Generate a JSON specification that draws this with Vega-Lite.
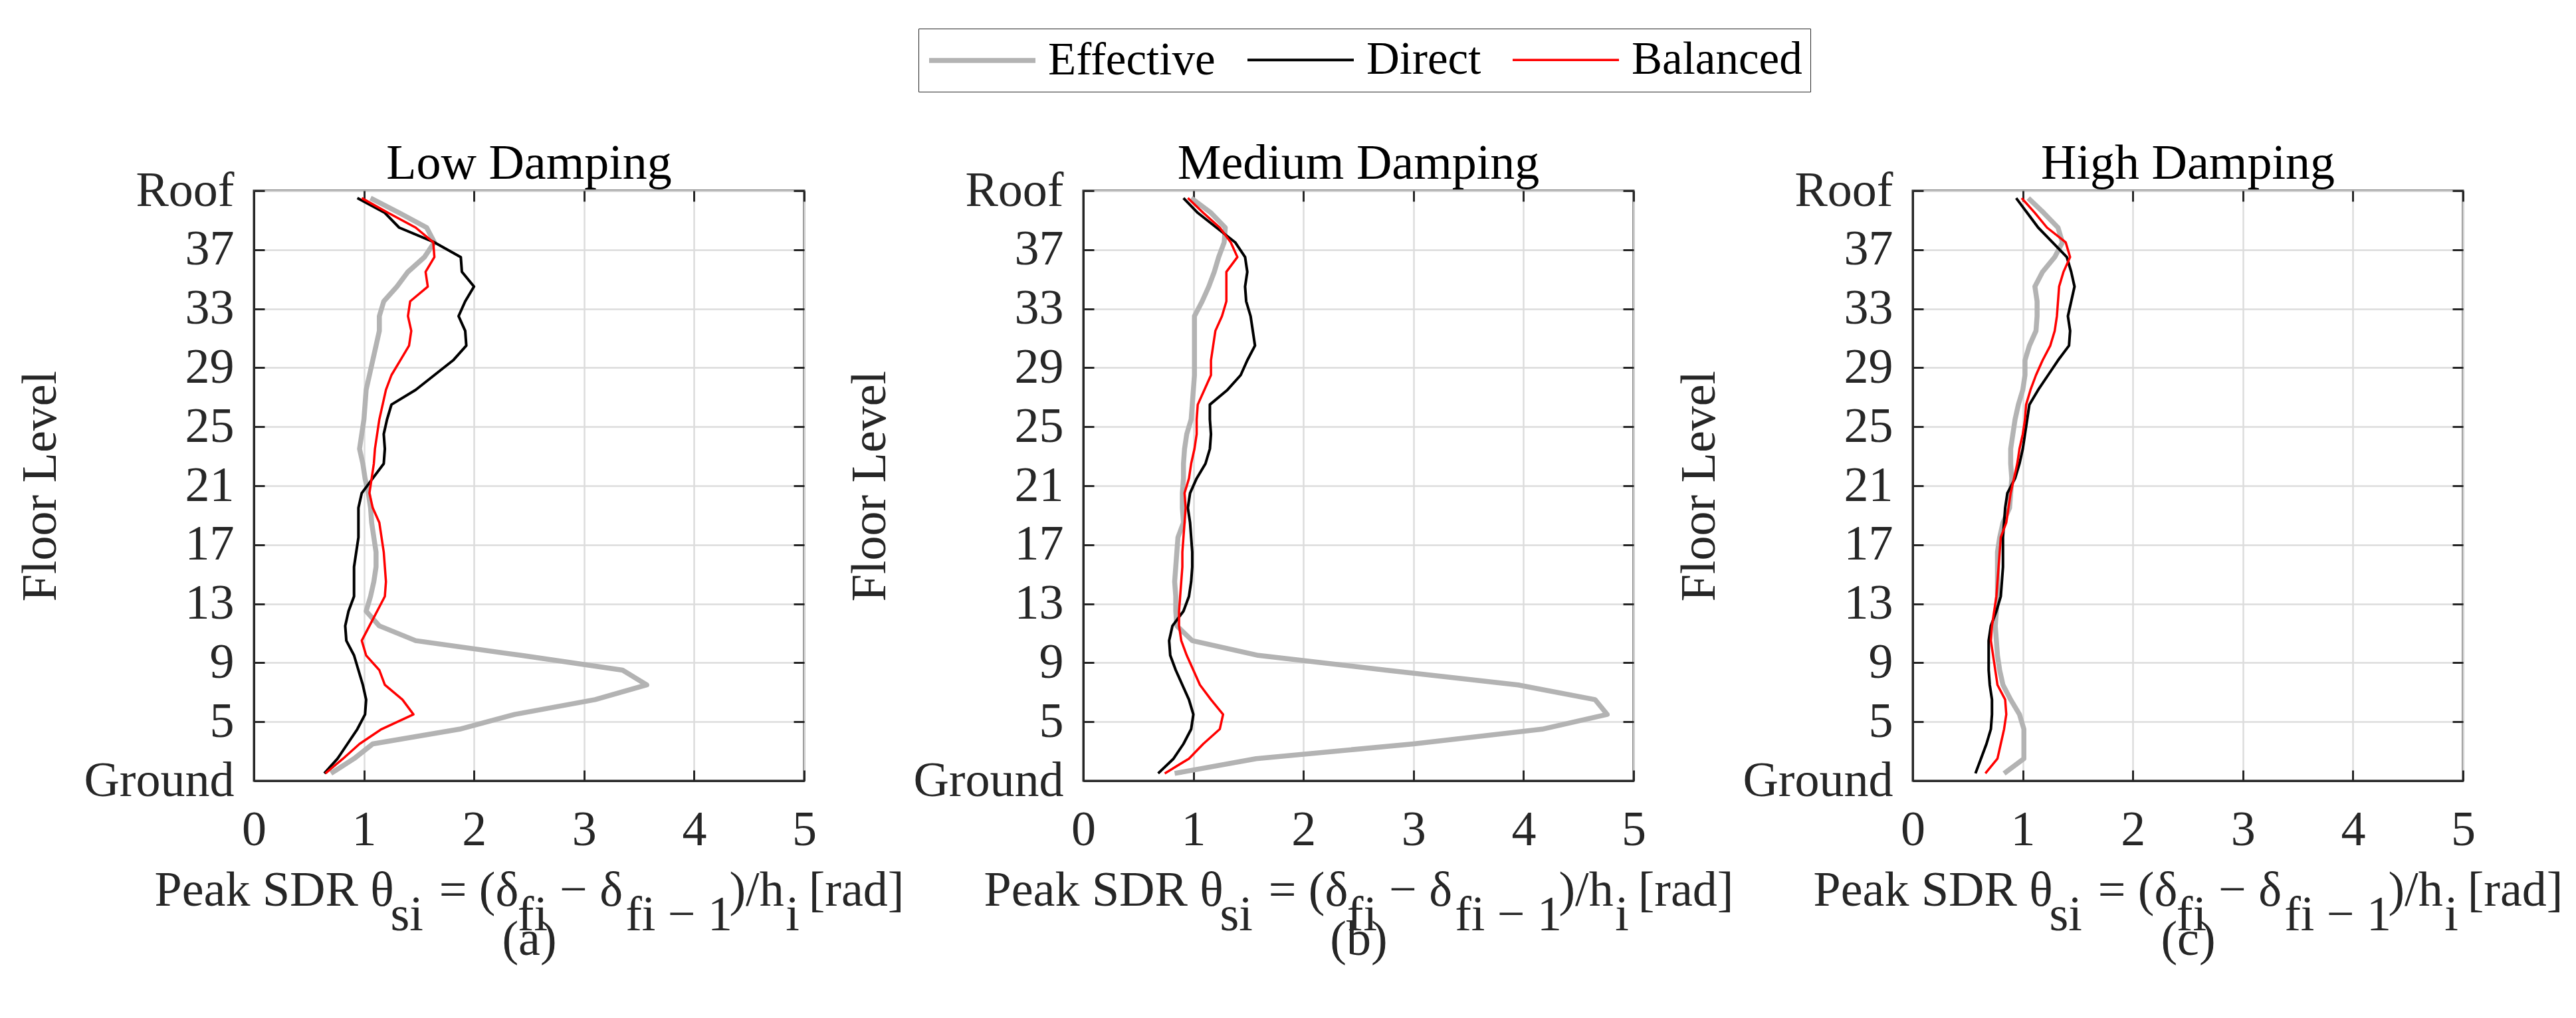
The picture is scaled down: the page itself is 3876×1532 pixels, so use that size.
{
  "$schema": "https://vega.github.io/schema/vega-lite/v6.json",
  "background": "white",
  "padding": {"left": 22, "top": 42, "right": 0, "bottom": 0},
  "datasets": {
    "sdr": [
      {"p":"a","s":"Effective","f":1.5,"v":0.70},{"p":"a","s":"Effective","f":2.5,"v":0.91},{"p":"a","s":"Effective","f":3.5,"v":1.08},{"p":"a","s":"Effective","f":4.5,"v":1.87},{"p":"a","s":"Effective","f":5.5,"v":2.37},
      {"p":"a","s":"Effective","f":6.5,"v":3.10},{"p":"a","s":"Effective","f":7.5,"v":3.57},{"p":"a","s":"Effective","f":8.5,"v":3.35},{"p":"a","s":"Effective","f":9.5,"v":2.43},{"p":"a","s":"Effective","f":10.5,"v":1.47},
      {"p":"a","s":"Effective","f":11.5,"v":1.14},{"p":"a","s":"Effective","f":12.5,"v":1.02},{"p":"a","s":"Effective","f":13.5,"v":1.06},{"p":"a","s":"Effective","f":14.5,"v":1.09},{"p":"a","s":"Effective","f":15.5,"v":1.11},
      {"p":"a","s":"Effective","f":16.5,"v":1.11},{"p":"a","s":"Effective","f":17.5,"v":1.09},{"p":"a","s":"Effective","f":18.5,"v":1.07},{"p":"a","s":"Effective","f":19.5,"v":1.06},{"p":"a","s":"Effective","f":20.5,"v":1.04},
      {"p":"a","s":"Effective","f":21.5,"v":1.01},{"p":"a","s":"Effective","f":22.5,"v":0.99},{"p":"a","s":"Effective","f":23.5,"v":0.96},{"p":"a","s":"Effective","f":24.5,"v":0.98},{"p":"a","s":"Effective","f":25.5,"v":1.00},
      {"p":"a","s":"Effective","f":26.5,"v":1.01},{"p":"a","s":"Effective","f":27.5,"v":1.02},{"p":"a","s":"Effective","f":28.5,"v":1.05},{"p":"a","s":"Effective","f":29.5,"v":1.08},{"p":"a","s":"Effective","f":30.5,"v":1.11},
      {"p":"a","s":"Effective","f":31.5,"v":1.14},{"p":"a","s":"Effective","f":32.5,"v":1.14},{"p":"a","s":"Effective","f":33.5,"v":1.18},{"p":"a","s":"Effective","f":34.5,"v":1.30},{"p":"a","s":"Effective","f":35.5,"v":1.40},
      {"p":"a","s":"Effective","f":36.5,"v":1.55},{"p":"a","s":"Effective","f":37.5,"v":1.64},{"p":"a","s":"Effective","f":38.5,"v":1.57},{"p":"a","s":"Effective","f":39.5,"v":1.32},{"p":"a","s":"Effective","f":40.5,"v":1.06},

      {"p":"a","s":"Direct","f":1.5,"v":0.64},{"p":"a","s":"Direct","f":2.5,"v":0.76},{"p":"a","s":"Direct","f":3.5,"v":0.85},{"p":"a","s":"Direct","f":4.5,"v":0.94},{"p":"a","s":"Direct","f":5.5,"v":1.01},
      {"p":"a","s":"Direct","f":6.5,"v":1.02},{"p":"a","s":"Direct","f":7.5,"v":0.99},{"p":"a","s":"Direct","f":8.5,"v":0.95},{"p":"a","s":"Direct","f":9.5,"v":0.91},{"p":"a","s":"Direct","f":10.5,"v":0.84},
      {"p":"a","s":"Direct","f":11.5,"v":0.83},{"p":"a","s":"Direct","f":12.5,"v":0.86},{"p":"a","s":"Direct","f":13.5,"v":0.91},{"p":"a","s":"Direct","f":14.5,"v":0.91},{"p":"a","s":"Direct","f":15.5,"v":0.91},
      {"p":"a","s":"Direct","f":16.5,"v":0.93},{"p":"a","s":"Direct","f":17.5,"v":0.95},{"p":"a","s":"Direct","f":18.5,"v":0.95},{"p":"a","s":"Direct","f":19.5,"v":0.95},{"p":"a","s":"Direct","f":20.5,"v":0.98},
      {"p":"a","s":"Direct","f":21.5,"v":1.08},{"p":"a","s":"Direct","f":22.5,"v":1.18},{"p":"a","s":"Direct","f":23.5,"v":1.19},{"p":"a","s":"Direct","f":24.5,"v":1.18},{"p":"a","s":"Direct","f":25.5,"v":1.21},
      {"p":"a","s":"Direct","f":26.5,"v":1.25},{"p":"a","s":"Direct","f":27.5,"v":1.47},{"p":"a","s":"Direct","f":28.5,"v":1.64},{"p":"a","s":"Direct","f":29.5,"v":1.81},{"p":"a","s":"Direct","f":30.5,"v":1.93},
      {"p":"a","s":"Direct","f":31.5,"v":1.92},{"p":"a","s":"Direct","f":32.5,"v":1.86},{"p":"a","s":"Direct","f":33.5,"v":1.92},{"p":"a","s":"Direct","f":34.5,"v":2.00},{"p":"a","s":"Direct","f":35.5,"v":1.89},
      {"p":"a","s":"Direct","f":36.5,"v":1.88},{"p":"a","s":"Direct","f":37.5,"v":1.64},{"p":"a","s":"Direct","f":38.5,"v":1.32},{"p":"a","s":"Direct","f":39.5,"v":1.19},{"p":"a","s":"Direct","f":40.5,"v":0.94},

      {"p":"a","s":"Balanced","f":1.5,"v":0.65},{"p":"a","s":"Balanced","f":2.5,"v":0.81},{"p":"a","s":"Balanced","f":3.5,"v":0.96},{"p":"a","s":"Balanced","f":4.5,"v":1.16},{"p":"a","s":"Balanced","f":5.5,"v":1.45},
      {"p":"a","s":"Balanced","f":6.5,"v":1.35},{"p":"a","s":"Balanced","f":7.5,"v":1.19},{"p":"a","s":"Balanced","f":8.5,"v":1.14},{"p":"a","s":"Balanced","f":9.5,"v":1.02},{"p":"a","s":"Balanced","f":10.5,"v":0.98},
      {"p":"a","s":"Balanced","f":11.5,"v":1.05},{"p":"a","s":"Balanced","f":12.5,"v":1.12},{"p":"a","s":"Balanced","f":13.5,"v":1.19},{"p":"a","s":"Balanced","f":14.5,"v":1.20},{"p":"a","s":"Balanced","f":15.5,"v":1.19},
      {"p":"a","s":"Balanced","f":16.5,"v":1.18},{"p":"a","s":"Balanced","f":17.5,"v":1.16},{"p":"a","s":"Balanced","f":18.5,"v":1.14},{"p":"a","s":"Balanced","f":19.5,"v":1.08},{"p":"a","s":"Balanced","f":20.5,"v":1.05},
      {"p":"a","s":"Balanced","f":21.5,"v":1.07},{"p":"a","s":"Balanced","f":22.5,"v":1.09},{"p":"a","s":"Balanced","f":23.5,"v":1.10},{"p":"a","s":"Balanced","f":24.5,"v":1.12},{"p":"a","s":"Balanced","f":25.5,"v":1.14},
      {"p":"a","s":"Balanced","f":26.5,"v":1.17},{"p":"a","s":"Balanced","f":27.5,"v":1.20},{"p":"a","s":"Balanced","f":28.5,"v":1.25},{"p":"a","s":"Balanced","f":29.5,"v":1.33},{"p":"a","s":"Balanced","f":30.5,"v":1.41},
      {"p":"a","s":"Balanced","f":31.5,"v":1.43},{"p":"a","s":"Balanced","f":32.5,"v":1.40},{"p":"a","s":"Balanced","f":33.5,"v":1.42},{"p":"a","s":"Balanced","f":34.5,"v":1.58},{"p":"a","s":"Balanced","f":35.5,"v":1.56},
      {"p":"a","s":"Balanced","f":36.5,"v":1.64},{"p":"a","s":"Balanced","f":37.5,"v":1.63},{"p":"a","s":"Balanced","f":38.5,"v":1.47},{"p":"a","s":"Balanced","f":39.5,"v":1.22},{"p":"a","s":"Balanced","f":40.5,"v":0.98},

      {"p":"b","s":"Effective","f":1.5,"v":0.83},{"p":"b","s":"Effective","f":2.5,"v":1.57},{"p":"b","s":"Effective","f":3.5,"v":3.00},{"p":"b","s":"Effective","f":4.5,"v":4.17},{"p":"b","s":"Effective","f":5.5,"v":4.76},
      {"p":"b","s":"Effective","f":6.5,"v":4.65},{"p":"b","s":"Effective","f":7.5,"v":3.95},{"p":"b","s":"Effective","f":8.5,"v":2.75},{"p":"b","s":"Effective","f":9.5,"v":1.59},{"p":"b","s":"Effective","f":10.5,"v":0.99},
      {"p":"b","s":"Effective","f":11.5,"v":0.85},{"p":"b","s":"Effective","f":12.5,"v":0.84},{"p":"b","s":"Effective","f":13.5,"v":0.84},{"p":"b","s":"Effective","f":14.5,"v":0.83},{"p":"b","s":"Effective","f":15.5,"v":0.84},
      {"p":"b","s":"Effective","f":16.5,"v":0.85},{"p":"b","s":"Effective","f":17.5,"v":0.86},{"p":"b","s":"Effective","f":18.5,"v":0.91},{"p":"b","s":"Effective","f":19.5,"v":0.90},{"p":"b","s":"Effective","f":20.5,"v":0.90},
      {"p":"b","s":"Effective","f":21.5,"v":0.91},{"p":"b","s":"Effective","f":22.5,"v":0.91},{"p":"b","s":"Effective","f":23.5,"v":0.92},{"p":"b","s":"Effective","f":24.5,"v":0.94},{"p":"b","s":"Effective","f":25.5,"v":0.98},
      {"p":"b","s":"Effective","f":26.5,"v":0.99},{"p":"b","s":"Effective","f":27.5,"v":1.00},{"p":"b","s":"Effective","f":28.5,"v":1.01},{"p":"b","s":"Effective","f":29.5,"v":1.01},{"p":"b","s":"Effective","f":30.5,"v":1.01},
      {"p":"b","s":"Effective","f":31.5,"v":1.01},{"p":"b","s":"Effective","f":32.5,"v":1.01},{"p":"b","s":"Effective","f":33.5,"v":1.08},{"p":"b","s":"Effective","f":34.5,"v":1.14},{"p":"b","s":"Effective","f":35.5,"v":1.19},
      {"p":"b","s":"Effective","f":36.5,"v":1.23},{"p":"b","s":"Effective","f":37.5,"v":1.28},{"p":"b","s":"Effective","f":38.5,"v":1.29},{"p":"b","s":"Effective","f":39.5,"v":1.16},{"p":"b","s":"Effective","f":40.5,"v":0.98},

      {"p":"b","s":"Direct","f":1.5,"v":0.68},{"p":"b","s":"Direct","f":2.5,"v":0.82},{"p":"b","s":"Direct","f":3.5,"v":0.91},{"p":"b","s":"Direct","f":4.5,"v":0.98},{"p":"b","s":"Direct","f":5.5,"v":1.00},
      {"p":"b","s":"Direct","f":6.5,"v":0.96},{"p":"b","s":"Direct","f":7.5,"v":0.90},{"p":"b","s":"Direct","f":8.5,"v":0.84},{"p":"b","s":"Direct","f":9.5,"v":0.79},{"p":"b","s":"Direct","f":10.5,"v":0.78},
      {"p":"b","s":"Direct","f":11.5,"v":0.81},{"p":"b","s":"Direct","f":12.5,"v":0.91},{"p":"b","s":"Direct","f":13.5,"v":0.96},{"p":"b","s":"Direct","f":14.5,"v":0.98},{"p":"b","s":"Direct","f":15.5,"v":0.99},
      {"p":"b","s":"Direct","f":16.5,"v":0.99},{"p":"b","s":"Direct","f":17.5,"v":0.98},{"p":"b","s":"Direct","f":18.5,"v":0.97},{"p":"b","s":"Direct","f":19.5,"v":0.95},{"p":"b","s":"Direct","f":20.5,"v":0.97},
      {"p":"b","s":"Direct","f":21.5,"v":1.03},{"p":"b","s":"Direct","f":22.5,"v":1.11},{"p":"b","s":"Direct","f":23.5,"v":1.15},{"p":"b","s":"Direct","f":24.5,"v":1.16},{"p":"b","s":"Direct","f":25.5,"v":1.15},
      {"p":"b","s":"Direct","f":26.5,"v":1.15},{"p":"b","s":"Direct","f":27.5,"v":1.31},{"p":"b","s":"Direct","f":28.5,"v":1.43},{"p":"b","s":"Direct","f":29.5,"v":1.49},{"p":"b","s":"Direct","f":30.5,"v":1.56},
      {"p":"b","s":"Direct","f":31.5,"v":1.54},{"p":"b","s":"Direct","f":32.5,"v":1.52},{"p":"b","s":"Direct","f":33.5,"v":1.48},{"p":"b","s":"Direct","f":34.5,"v":1.47},{"p":"b","s":"Direct","f":35.5,"v":1.49},
      {"p":"b","s":"Direct","f":36.5,"v":1.47},{"p":"b","s":"Direct","f":37.5,"v":1.38},{"p":"b","s":"Direct","f":38.5,"v":1.21},{"p":"b","s":"Direct","f":39.5,"v":1.04},{"p":"b","s":"Direct","f":40.5,"v":0.91},

      {"p":"b","s":"Balanced","f":1.5,"v":0.74},{"p":"b","s":"Balanced","f":2.5,"v":0.96},{"p":"b","s":"Balanced","f":3.5,"v":1.09},{"p":"b","s":"Balanced","f":4.5,"v":1.24},{"p":"b","s":"Balanced","f":5.5,"v":1.27},
      {"p":"b","s":"Balanced","f":6.5,"v":1.16},{"p":"b","s":"Balanced","f":7.5,"v":1.06},{"p":"b","s":"Balanced","f":8.5,"v":1.00},{"p":"b","s":"Balanced","f":9.5,"v":0.94},{"p":"b","s":"Balanced","f":10.5,"v":0.89},
      {"p":"b","s":"Balanced","f":11.5,"v":0.87},{"p":"b","s":"Balanced","f":12.5,"v":0.87},{"p":"b","s":"Balanced","f":13.5,"v":0.88},{"p":"b","s":"Balanced","f":14.5,"v":0.89},{"p":"b","s":"Balanced","f":15.5,"v":0.90},
      {"p":"b","s":"Balanced","f":16.5,"v":0.90},{"p":"b","s":"Balanced","f":17.5,"v":0.91},{"p":"b","s":"Balanced","f":18.5,"v":0.92},{"p":"b","s":"Balanced","f":19.5,"v":0.93},{"p":"b","s":"Balanced","f":20.5,"v":0.92},
      {"p":"b","s":"Balanced","f":21.5,"v":0.96},{"p":"b","s":"Balanced","f":22.5,"v":0.98},{"p":"b","s":"Balanced","f":23.5,"v":1.01},{"p":"b","s":"Balanced","f":24.5,"v":1.03},{"p":"b","s":"Balanced","f":25.5,"v":1.03},
      {"p":"b","s":"Balanced","f":26.5,"v":1.04},{"p":"b","s":"Balanced","f":27.5,"v":1.10},{"p":"b","s":"Balanced","f":28.5,"v":1.16},{"p":"b","s":"Balanced","f":29.5,"v":1.16},{"p":"b","s":"Balanced","f":30.5,"v":1.18},
      {"p":"b","s":"Balanced","f":31.5,"v":1.20},{"p":"b","s":"Balanced","f":32.5,"v":1.26},{"p":"b","s":"Balanced","f":33.5,"v":1.30},{"p":"b","s":"Balanced","f":34.5,"v":1.30},{"p":"b","s":"Balanced","f":35.5,"v":1.30},
      {"p":"b","s":"Balanced","f":36.5,"v":1.40},{"p":"b","s":"Balanced","f":37.5,"v":1.34},{"p":"b","s":"Balanced","f":38.5,"v":1.24},{"p":"b","s":"Balanced","f":39.5,"v":1.09},{"p":"b","s":"Balanced","f":40.5,"v":0.95},

      {"p":"c","s":"Effective","f":1.5,"v":0.83},{"p":"c","s":"Effective","f":2.5,"v":1.01},{"p":"c","s":"Effective","f":3.5,"v":1.01},{"p":"c","s":"Effective","f":4.5,"v":1.01},{"p":"c","s":"Effective","f":5.5,"v":0.97},
      {"p":"c","s":"Effective","f":6.5,"v":0.89},{"p":"c","s":"Effective","f":7.5,"v":0.82},{"p":"c","s":"Effective","f":8.5,"v":0.79},{"p":"c","s":"Effective","f":9.5,"v":0.77},{"p":"c","s":"Effective","f":10.5,"v":0.76},
      {"p":"c","s":"Effective","f":11.5,"v":0.75},{"p":"c","s":"Effective","f":12.5,"v":0.76},{"p":"c","s":"Effective","f":13.5,"v":0.77},{"p":"c","s":"Effective","f":14.5,"v":0.77},{"p":"c","s":"Effective","f":15.5,"v":0.77},
      {"p":"c","s":"Effective","f":16.5,"v":0.77},{"p":"c","s":"Effective","f":17.5,"v":0.79},{"p":"c","s":"Effective","f":18.5,"v":0.82},{"p":"c","s":"Effective","f":19.5,"v":0.88},{"p":"c","s":"Effective","f":20.5,"v":0.89},
      {"p":"c","s":"Effective","f":21.5,"v":0.90},{"p":"c","s":"Effective","f":22.5,"v":0.89},{"p":"c","s":"Effective","f":23.5,"v":0.89},{"p":"c","s":"Effective","f":24.5,"v":0.91},{"p":"c","s":"Effective","f":25.5,"v":0.93},
      {"p":"c","s":"Effective","f":26.5,"v":0.96},{"p":"c","s":"Effective","f":27.5,"v":1.00},{"p":"c","s":"Effective","f":28.5,"v":1.02},{"p":"c","s":"Effective","f":29.5,"v":1.02},{"p":"c","s":"Effective","f":30.5,"v":1.06},
      {"p":"c","s":"Effective","f":31.5,"v":1.12},{"p":"c","s":"Effective","f":32.5,"v":1.13},{"p":"c","s":"Effective","f":33.5,"v":1.13},{"p":"c","s":"Effective","f":34.5,"v":1.11},{"p":"c","s":"Effective","f":35.5,"v":1.18},
      {"p":"c","s":"Effective","f":36.5,"v":1.29},{"p":"c","s":"Effective","f":37.5,"v":1.36},{"p":"c","s":"Effective","f":38.5,"v":1.32},{"p":"c","s":"Effective","f":39.5,"v":1.19},{"p":"c","s":"Effective","f":40.5,"v":1.05},

      {"p":"c","s":"Direct","f":1.5,"v":0.57},{"p":"c","s":"Direct","f":2.5,"v":0.62},{"p":"c","s":"Direct","f":3.5,"v":0.67},{"p":"c","s":"Direct","f":4.5,"v":0.71},{"p":"c","s":"Direct","f":5.5,"v":0.72},
      {"p":"c","s":"Direct","f":6.5,"v":0.72},{"p":"c","s":"Direct","f":7.5,"v":0.70},{"p":"c","s":"Direct","f":8.5,"v":0.69},{"p":"c","s":"Direct","f":9.5,"v":0.69},{"p":"c","s":"Direct","f":10.5,"v":0.69},
      {"p":"c","s":"Direct","f":11.5,"v":0.71},{"p":"c","s":"Direct","f":12.5,"v":0.76},{"p":"c","s":"Direct","f":13.5,"v":0.80},{"p":"c","s":"Direct","f":14.5,"v":0.81},{"p":"c","s":"Direct","f":15.5,"v":0.82},
      {"p":"c","s":"Direct","f":16.5,"v":0.82},{"p":"c","s":"Direct","f":17.5,"v":0.82},{"p":"c","s":"Direct","f":18.5,"v":0.83},{"p":"c","s":"Direct","f":19.5,"v":0.84},{"p":"c","s":"Direct","f":20.5,"v":0.86},
      {"p":"c","s":"Direct","f":21.5,"v":0.93},{"p":"c","s":"Direct","f":22.5,"v":0.97},{"p":"c","s":"Direct","f":23.5,"v":1.00},{"p":"c","s":"Direct","f":24.5,"v":1.02},{"p":"c","s":"Direct","f":25.5,"v":1.04},
      {"p":"c","s":"Direct","f":26.5,"v":1.06},{"p":"c","s":"Direct","f":27.5,"v":1.14},{"p":"c","s":"Direct","f":28.5,"v":1.23},{"p":"c","s":"Direct","f":29.5,"v":1.32},{"p":"c","s":"Direct","f":30.5,"v":1.42},
      {"p":"c","s":"Direct","f":31.5,"v":1.43},{"p":"c","s":"Direct","f":32.5,"v":1.41},{"p":"c","s":"Direct","f":33.5,"v":1.44},{"p":"c","s":"Direct","f":34.5,"v":1.47},{"p":"c","s":"Direct","f":35.5,"v":1.44},
      {"p":"c","s":"Direct","f":36.5,"v":1.40},{"p":"c","s":"Direct","f":37.5,"v":1.27},{"p":"c","s":"Direct","f":38.5,"v":1.14},{"p":"c","s":"Direct","f":39.5,"v":1.04},{"p":"c","s":"Direct","f":40.5,"v":0.94},

      {"p":"c","s":"Balanced","f":1.5,"v":0.66},{"p":"c","s":"Balanced","f":2.5,"v":0.77},{"p":"c","s":"Balanced","f":3.5,"v":0.80},{"p":"c","s":"Balanced","f":4.5,"v":0.83},{"p":"c","s":"Balanced","f":5.5,"v":0.85},
      {"p":"c","s":"Balanced","f":6.5,"v":0.84},{"p":"c","s":"Balanced","f":7.5,"v":0.77},{"p":"c","s":"Balanced","f":8.5,"v":0.75},{"p":"c","s":"Balanced","f":9.5,"v":0.73},{"p":"c","s":"Balanced","f":10.5,"v":0.71},
      {"p":"c","s":"Balanced","f":11.5,"v":0.72},{"p":"c","s":"Balanced","f":12.5,"v":0.74},{"p":"c","s":"Balanced","f":13.5,"v":0.76},{"p":"c","s":"Balanced","f":14.5,"v":0.77},{"p":"c","s":"Balanced","f":15.5,"v":0.78},
      {"p":"c","s":"Balanced","f":16.5,"v":0.79},{"p":"c","s":"Balanced","f":17.5,"v":0.80},{"p":"c","s":"Balanced","f":18.5,"v":0.85},{"p":"c","s":"Balanced","f":19.5,"v":0.87},{"p":"c","s":"Balanced","f":20.5,"v":0.89},
      {"p":"c","s":"Balanced","f":21.5,"v":0.92},{"p":"c","s":"Balanced","f":22.5,"v":0.95},{"p":"c","s":"Balanced","f":23.5,"v":0.97},{"p":"c","s":"Balanced","f":24.5,"v":1.00},{"p":"c","s":"Balanced","f":25.5,"v":1.02},
      {"p":"c","s":"Balanced","f":26.5,"v":1.03},{"p":"c","s":"Balanced","f":27.5,"v":1.07},{"p":"c","s":"Balanced","f":28.5,"v":1.12},{"p":"c","s":"Balanced","f":29.5,"v":1.18},{"p":"c","s":"Balanced","f":30.5,"v":1.25},
      {"p":"c","s":"Balanced","f":31.5,"v":1.29},{"p":"c","s":"Balanced","f":32.5,"v":1.31},{"p":"c","s":"Balanced","f":33.5,"v":1.32},{"p":"c","s":"Balanced","f":34.5,"v":1.33},{"p":"c","s":"Balanced","f":35.5,"v":1.37},
      {"p":"c","s":"Balanced","f":36.5,"v":1.43},{"p":"c","s":"Balanced","f":37.5,"v":1.39},{"p":"c","s":"Balanced","f":38.5,"v":1.22},{"p":"c","s":"Balanced","f":39.5,"v":1.11},{"p":"c","s":"Balanced","f":40.5,"v":0.99}
    ]
  },
  "data": {"name": "sdr"},
  "spacing": 420,
  "bounds": "flush",
  "hconcat": [
    {
      "title": {"text": "Low Damping"},
      "width": 828,
      "height": 888,
      "transform": [{"filter": "datum.p == 'a'"}],
      "layer": [
        {
          "mark": {"type": "line", "strokeJoin": "round"},
          "encoding": {
            "x": {"field": "v", "type": "quantitative", "scale": {"domain": [0, 5], "nice": false, "zero": false},
              "axis": {"values": [0, 1, 2, 3, 4, 5], "grid": true, "labelPadding": 54, "titlePadding": 18, "titleLineHeight": 37,
                "titleFont": "serif",
                "title": ["Peak SDR \u03b8\u2002\u2006 = (\u03b4\u2004\u2005 \u2212 \u03b4\u2003\u2003\u2006)/h\u2005 [rad]", "\u200b\u2003\u2003\u2003\u2003\u2002\u2004si\u2003\u2002\u2005\u2006fi\u2003\u2004\u2005fi \u2212 1\u2004\u2004\u2005\u2006i\u2003\u2003\u2006\u200b", "(a)"]}},
            "y": {"field": "f", "type": "quantitative", "scale": {"domain": [1, 41], "nice": false, "zero": false},
              "axis": {"values": [1, 5, 9, 13, 17, 21, 25, 29, 33, 37, 41], "grid": true, "labelPadding": 46, "titlePadding": 83, "title": "Floor Level",
                "titleFont": "serif",
                "labelExpr": "datum.value == 1 ? 'Ground' : datum.value == 41 ? 'Roof' : datum.label"}},
            "order": {"field": "f", "type": "quantitative"},
            "color": {"field": "s", "type": "nominal",
              "scale": {"domain": ["Effective", "Direct", "Balanced"], "range": ["#b3b3b3", "#000000", "#ff0000"]},
              "legend": {"orient": "none", "legendX": 1000, "legendY": -244, "direction": "horizontal", "columns": 3, "title": null}},
            "strokeWidth": {"field": "s", "type": "nominal",
              "scale": {"type": "ordinal", "domain": ["Effective", "Direct", "Balanced"], "range": [7.5, 4, 3.5]},
              "legend": {"orient": "none", "legendX": 1000, "legendY": -244, "direction": "horizontal", "columns": 3, "title": null}}
          }
        },
        {
          "mark": {"type": "point", "opacity": 0},
          "encoding": {
            "x": {"field": "v", "type": "quantitative", "scale": {"domain": [0, 5], "nice": false, "zero": false},
              "axis": {"orient": "top", "values": [0, 1, 2, 3, 4, 5], "labels": false, "domain": false, "grid": false, "title": null, "minExtent": 0, "maxExtent": 0}},
            "y": {"field": "f", "type": "quantitative", "scale": {"domain": [1, 41], "nice": false, "zero": false},
              "axis": {"orient": "right", "values": [1, 5, 9, 13, 17, 21, 25, 29, 33, 37, 41], "labels": false, "domain": false, "grid": false, "title": null, "minExtent": 0, "maxExtent": 0}}
          }
        }
      ],
      "resolve": {"axis": {"x": "independent", "y": "independent"}}
    },
    {
      "title": {"text": "Medium Damping"},
      "width": 828,
      "height": 888,
      "transform": [{"filter": "datum.p == 'b'"}],
      "layer": [
        {
          "mark": {"type": "line", "strokeJoin": "round"},
          "encoding": {
            "x": {"field": "v", "type": "quantitative", "scale": {"domain": [0, 5], "nice": false, "zero": false},
              "axis": {"values": [0, 1, 2, 3, 4, 5], "grid": true, "labelPadding": 54, "titlePadding": 18, "titleLineHeight": 37,
                "titleFont": "serif",
                "title": ["Peak SDR \u03b8\u2002\u2006 = (\u03b4\u2004\u2005 \u2212 \u03b4\u2003\u2003\u2006)/h\u2005 [rad]", "\u200b\u2003\u2003\u2003\u2003\u2002\u2004si\u2003\u2002\u2005\u2006fi\u2003\u2004\u2005fi \u2212 1\u2004\u2004\u2005\u2006i\u2003\u2003\u2006\u200b", "(b)"]}},
            "y": {"field": "f", "type": "quantitative", "scale": {"domain": [1, 41], "nice": false, "zero": false},
              "axis": {"values": [1, 5, 9, 13, 17, 21, 25, 29, 33, 37, 41], "grid": true, "labelPadding": 46, "titlePadding": 83, "title": "Floor Level",
                "titleFont": "serif",
                "labelExpr": "datum.value == 1 ? 'Ground' : datum.value == 41 ? 'Roof' : datum.label"}},
            "order": {"field": "f", "type": "quantitative"},
            "color": {"field": "s", "type": "nominal",
              "scale": {"domain": ["Effective", "Direct", "Balanced"], "range": ["#b3b3b3", "#000000", "#ff0000"]},
              "legend": {"orient": "none", "legendX": 1000, "legendY": -244, "direction": "horizontal", "columns": 3, "title": null}},
            "strokeWidth": {"field": "s", "type": "nominal",
              "scale": {"type": "ordinal", "domain": ["Effective", "Direct", "Balanced"], "range": [7.5, 4, 3.5]},
              "legend": {"orient": "none", "legendX": 1000, "legendY": -244, "direction": "horizontal", "columns": 3, "title": null}}
          }
        },
        {
          "mark": {"type": "point", "opacity": 0},
          "encoding": {
            "x": {"field": "v", "type": "quantitative", "scale": {"domain": [0, 5], "nice": false, "zero": false},
              "axis": {"orient": "top", "values": [0, 1, 2, 3, 4, 5], "labels": false, "domain": false, "grid": false, "title": null, "minExtent": 0, "maxExtent": 0}},
            "y": {"field": "f", "type": "quantitative", "scale": {"domain": [1, 41], "nice": false, "zero": false},
              "axis": {"orient": "right", "values": [1, 5, 9, 13, 17, 21, 25, 29, 33, 37, 41], "labels": false, "domain": false, "grid": false, "title": null, "minExtent": 0, "maxExtent": 0}}
          }
        }
      ],
      "resolve": {"axis": {"x": "independent", "y": "independent"}}
    },
    {
      "title": {"text": "High Damping"},
      "width": 828,
      "height": 888,
      "transform": [{"filter": "datum.p == 'c'"}],
      "layer": [
        {
          "mark": {"type": "line", "strokeJoin": "round"},
          "encoding": {
            "x": {"field": "v", "type": "quantitative", "scale": {"domain": [0, 5], "nice": false, "zero": false},
              "axis": {"values": [0, 1, 2, 3, 4, 5], "grid": true, "labelPadding": 54, "titlePadding": 18, "titleLineHeight": 37,
                "titleFont": "serif",
                "title": ["Peak SDR \u03b8\u2002\u2006 = (\u03b4\u2004\u2005 \u2212 \u03b4\u2003\u2003\u2006)/h\u2005 [rad]", "\u200b\u2003\u2003\u2003\u2003\u2002\u2004si\u2003\u2002\u2005\u2006fi\u2003\u2004\u2005fi \u2212 1\u2004\u2004\u2005\u2006i\u2003\u2003\u2006\u200b", "(c)"]}},
            "y": {"field": "f", "type": "quantitative", "scale": {"domain": [1, 41], "nice": false, "zero": false},
              "axis": {"values": [1, 5, 9, 13, 17, 21, 25, 29, 33, 37, 41], "grid": true, "labelPadding": 46, "titlePadding": 83, "title": "Floor Level",
                "titleFont": "serif",
                "labelExpr": "datum.value == 1 ? 'Ground' : datum.value == 41 ? 'Roof' : datum.label"}},
            "order": {"field": "f", "type": "quantitative"},
            "color": {"field": "s", "type": "nominal",
              "scale": {"domain": ["Effective", "Direct", "Balanced"], "range": ["#b3b3b3", "#000000", "#ff0000"]},
              "legend": {"orient": "none", "legendX": 1000, "legendY": -244, "direction": "horizontal", "columns": 3, "title": null}},
            "strokeWidth": {"field": "s", "type": "nominal",
              "scale": {"type": "ordinal", "domain": ["Effective", "Direct", "Balanced"], "range": [7.5, 4, 3.5]},
              "legend": {"orient": "none", "legendX": 1000, "legendY": -244, "direction": "horizontal", "columns": 3, "title": null}}
          }
        },
        {
          "mark": {"type": "point", "opacity": 0},
          "encoding": {
            "x": {"field": "v", "type": "quantitative", "scale": {"domain": [0, 5], "nice": false, "zero": false},
              "axis": {"orient": "top", "values": [0, 1, 2, 3, 4, 5], "labels": false, "domain": false, "grid": false, "title": null, "minExtent": 0, "maxExtent": 0}},
            "y": {"field": "f", "type": "quantitative", "scale": {"domain": [1, 41], "nice": false, "zero": false},
              "axis": {"orient": "right", "values": [1, 5, 9, 13, 17, 21, 25, 29, 33, 37, 41], "labels": false, "domain": false, "grid": false, "title": null, "minExtent": 0, "maxExtent": 0}}
          }
        }
      ],
      "resolve": {"axis": {"x": "independent", "y": "independent"}}
    }
  ],
  "config": {
    "font": "Liberation Serif, Times New Roman, serif",
    "view": {"stroke": "#262626", "strokeWidth": 3},
    "style": {
      "guide-label": {"font": "Liberation Serif, Times New Roman, serif"},
      "guide-title": {"font": "serif"},
      "group-title": {"font": "Liberation Serif, Times New Roman, serif"}
    },
    "axis": {
      "labelFont": "Liberation Serif, Times New Roman, serif", "titleFont": "serif",
      "labelFontSize": 74, "titleFontSize": 74, "titleFontWeight": "normal",
      "labelColor": "#262626", "titleColor": "#262626", "labelLimit": 500,
      "domainColor": "#262626", "domainWidth": 3,
      "tickColor": "#262626", "tickWidth": 3, "tickSize": -16,
      "gridColor": "#dcdcdc", "gridWidth": 2.5,
      "labelFlush": false, "labelOverlap": false
    },
    "title": {"font": "Liberation Serif, Times New Roman, serif", "fontSize": 74, "fontWeight": "normal", "color": "#000000", "offset": -35},
    "legend": {
      "labelFont": "Liberation Serif, Times New Roman, serif", "labelFontSize": 69, "labelColor": "#000000", "labelLimit": 600,
      "symbolType": "M-2.5,0H2.5", "symbolSize": 4096, "symbolOffset": 48, "labelOffset": 63,
      "columnPadding": 40, "padding": 12, "strokeColor": "#262626", "fillColor": "#ffffff"
    }
  }
}
